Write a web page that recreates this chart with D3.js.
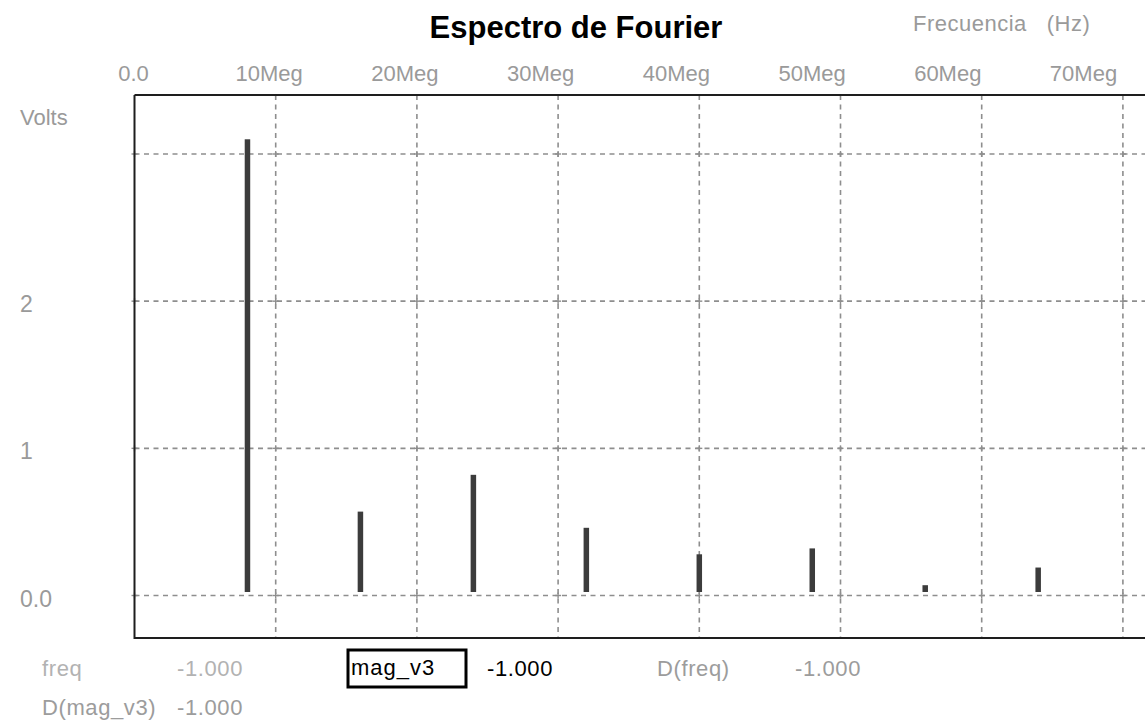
<!DOCTYPE html>
<html>
<head>
<meta charset="utf-8">
<script src="https://cdn.jsdelivr.net/npm/d3@7"></script>
<style>
  html, body { margin: 0; padding: 0; background: #ffffff; }
  svg { display: block; }
</style>
</head>
<body>
<svg id="chart" width="1145" height="723"></svg>
<script>
// Harmonic frequencies (Hz) and their magnitudes (V)
const freqs = [8e6, 16e6, 24e6, 32e6, 40e6, 48e6, 56e6, 64e6];
const mags  = [3.10, 0.57, 0.82, 0.46, 0.28, 0.32, 0.07, 0.19];

// Axis ticks and labels
const xTicks      = [0, 10e6, 20e6, 30e6, 40e6, 50e6, 60e6, 70e6];
const xTickLabels = ["0.0", "10Meg", "20Meg", "30Meg", "40Meg", "50Meg", "60Meg", "70Meg"];
const yGrid       = [0, 1, 2, 3];
const yTicks      = [0, 1, 2];
const yTickLabels = ["0.0", "1", "2"];

// Cursor readout entries under the plot
const readoutRow1 = [
  { text: "freq",    color: "#b2b2b2", anchor: "start", col: 0 },
  { text: "-1.000",  color: "#b2b2b2", anchor: "end",   col: 1 },
  { text: "-1.000",  color: "#000000", anchor: "start", col: 3 },
  { text: "D(freq)", color: "#9c9c9c", anchor: "start", col: 4 },
  { text: "-1.000",  color: "#9c9c9c", anchor: "start", col: 5 }
];
const readoutRow2 = [
  { text: "D(mag_v3)", color: "#9c9c9c", anchor: "start", col: 0 },
  { text: "-1.000",    color: "#9c9c9c", anchor: "end",   col: 1 }
];
const traceName = "mag_v3";

const svg = d3.select("#chart");
const W = 1145;

const plot = { left: 134.5, top: 95, bottom: 638 };

// Scales
const x = d3.scaleLinear().domain([0, 80e6]).range([plot.left, plot.left + 8 * 141.2]);
const y = d3.scaleLinear().domain([0, 3]).range([595.5, 154]);
// Tick labels are spaced slightly tighter than the grid
const xLabel = d3.scaleLinear().domain([0, 70e6]).range([133, 1083]);

const gridColor = "#8e8e8e";
const labelFont = "'Liberation Sans', Arial, sans-serif";
const labelSize = 22;

// Grid lines
svg.append("g").selectAll("line").data(xTicks.slice(1)).join("line")
  .attr("x1", d => x(d)).attr("x2", d => x(d))
  .attr("y1", plot.top).attr("y2", plot.bottom)
  .attr("stroke", gridColor).attr("stroke-width", 1.6)
  .attr("stroke-dasharray", "5,4.5");

svg.append("g").selectAll("line").data(yGrid).join("line")
  .attr("x1", plot.left).attr("x2", W)
  .attr("y1", d => y(d)).attr("y2", d => y(d))
  .attr("stroke", gridColor).attr("stroke-width", 1.6)
  .attr("stroke-dasharray", "5,4.5");

// Small cross marks where the grid lines meet
const crosses = [];
xTicks.forEach(fx => yGrid.forEach(vy => crosses.push([fx, vy])));
const cg = svg.append("g").attr("stroke", gridColor).attr("stroke-width", 1.4);
cg.selectAll("line.h").data(crosses).join("line").attr("class", "h")
  .attr("x1", d => x(d[0]) - 3).attr("x2", d => x(d[0]) + 3)
  .attr("y1", d => y(d[1])).attr("y2", d => y(d[1]));
cg.selectAll("line.v").data(crosses).join("line").attr("class", "v")
  .attr("x1", d => x(d[0])).attr("x2", d => x(d[0]))
  .attr("y1", d => y(d[1]) - 3).attr("y2", d => y(d[1]) + 3);

// Plot frame (right edge lies outside the window)
const frame = svg.append("g").attr("stroke", "#1e1e1e").attr("stroke-width", 2);
frame.append("line").attr("x1", plot.left).attr("x2", W).attr("y1", plot.top).attr("y2", plot.top);
frame.append("line").attr("x1", plot.left).attr("x2", W).attr("y1", plot.bottom).attr("y2", plot.bottom);
frame.append("line").attr("x1", plot.left).attr("x2", plot.left).attr("y1", plot.top).attr("y2", plot.bottom + 1);

// Spectrum lines
const barW = 5.5;
svg.append("g").selectAll("rect").data(freqs.map((f, i) => ({ f, v: mags[i] }))).join("rect")
  .attr("x", d => x(d.f) - barW / 2)
  .attr("width", barW)
  .attr("y", d => y(d.v))
  .attr("height", d => Math.max(0, y(0) - 3.5 - y(d.v)))
  .attr("fill", "#3c3c3c");

// Top frequency axis labels
const xAxis = d3.axisTop(xLabel)
  .tickValues(xTicks)
  .tickFormat((d, i) => xTickLabels[i])
  .tickSize(0).tickPadding(0);
const xg = svg.append("g").attr("transform", "translate(0,81)").call(xAxis);
xg.select(".domain").remove();
xg.selectAll("text")
  .attr("fill", "#9a9a9a")
  .attr("font-family", labelFont)
  .attr("font-size", labelSize)
  .attr("dy", 0);

// Left voltage labels
svg.append("g").selectAll("text").data(yTicks).join("text")
  .attr("x", 20)
  .attr("y", d => y(d) + 11)
  .attr("fill", "#9a9a9a")
  .attr("font-family", labelFont)
  .attr("font-size", 23)
  .text((d, i) => yTickLabels[i]);

svg.append("text")
  .attr("x", 20).attr("y", 125)
  .attr("fill", "#9a9a9a")
  .attr("font-family", labelFont)
  .attr("font-size", labelSize)
  .text("Volts");

// Title and axis unit
svg.append("text")
  .attr("x", 576).attr("y", 38)
  .attr("text-anchor", "middle")
  .attr("font-family", "'Liberation Sans', Arial, sans-serif")
  .attr("font-weight", "bold")
  .attr("font-size", 31)
  .attr("fill", "#000")
  .text("Espectro de Fourier");

svg.append("text")
  .attr("x", 913).attr("y", 31)
  .attr("fill", "#9a9a9a")
  .attr("font-family", labelFont)
  .attr("font-size", labelSize)
  .attr("letter-spacing", 0.5)
  .attr("xml:space", "preserve")
  .text("Frecuencia   (Hz)");

// Cursor readout
const colX = [42, 243, 350, 487, 657, 795];
const readout = svg.append("g").attr("font-family", labelFont).attr("font-size", labelSize);
readout.selectAll("text.r1").data(readoutRow1).join("text").attr("class", "r1")
  .attr("x", d => colX[d.col]).attr("y", 676)
  .attr("text-anchor", d => d.anchor)
  .attr("fill", d => d.color)
  .attr("letter-spacing", 0.6)
  .text(d => d.text);
readout.selectAll("text.r2").data(readoutRow2).join("text").attr("class", "r2")
  .attr("x", d => colX[d.col]).attr("y", 715)
  .attr("text-anchor", d => d.anchor)
  .attr("fill", d => d.color)
  .attr("letter-spacing", 0.6)
  .text(d => d.text);

// Selected trace name box
svg.append("rect")
  .attr("x", 348).attr("y", 650)
  .attr("width", 118).attr("height", 37)
  .attr("fill", "none").attr("stroke", "#000").attr("stroke-width", 3);
svg.append("text")
  .attr("x", 351).attr("y", 675)
  .attr("font-family", labelFont).attr("font-size", labelSize)
  .attr("letter-spacing", 1)
  .attr("fill", "#000")
  .text(traceName);
</script>
</body>
</html>
